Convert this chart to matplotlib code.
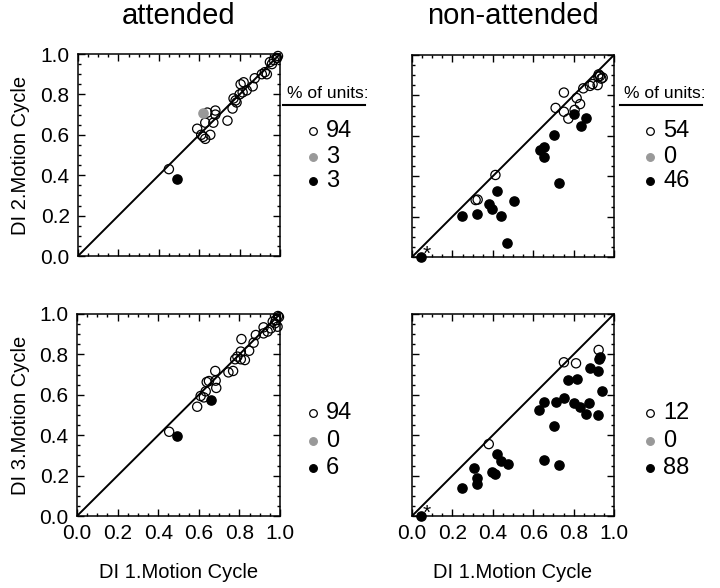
import matplotlib.pyplot as plt
from matplotlib.ticker import MultipleLocator
from matplotlib.lines import Line2D

# ---- data ----
# attended, DI 2 vs DI 1
a2_open_x = [0.45, 0.59, 0.63, 0.64, 0.68, 0.68, 0.67, 0.61, 0.63, 0.655, 0.74, 0.765, 0.78, 0.77,
             0.80, 0.815, 0.805, 0.82, 0.865, 0.875, 0.91, 0.925, 0.935, 0.95, 0.97, 0.985, 0.785,
             0.835, 0.99, 0.96, 0.62]
a2_open_y = [0.43, 0.63, 0.66, 0.71, 0.72, 0.70, 0.66, 0.60, 0.58, 0.60, 0.67, 0.73, 0.77, 0.78,
             0.80, 0.81, 0.85, 0.86, 0.84, 0.88, 0.90, 0.91, 0.90, 0.96, 0.97, 0.98, 0.76,
             0.82, 0.99, 0.95, 0.59]
a2_gray_x = [0.62]
a2_gray_y = [0.71]
a2_fill_x = [0.49]
a2_fill_y = [0.38]

# non-attended, DI 2 vs DI 1
n2_open_x = [0.315, 0.325, 0.413, 0.711, 0.752, 0.752, 0.774, 0.805, 0.815, 0.832, 0.848, 0.881,
             0.894, 0.919, 0.922, 0.931, 0.937, 0.924, 0.944]
n2_open_y = [0.282, 0.284, 0.406, 0.738, 0.814, 0.719, 0.685, 0.728, 0.787, 0.757, 0.835, 0.847,
             0.856, 0.851, 0.893, 0.896, 0.883, 0.904, 0.888]
n2_fill_x = [0.045, 0.246, 0.320, 0.381, 0.398, 0.421, 0.442, 0.472, 0.507, 0.634, 0.655, 0.653,
             0.703, 0.729, 0.804, 0.837, 0.863]
n2_fill_y = [0.0, 0.203, 0.215, 0.262, 0.236, 0.327, 0.203, 0.068, 0.279, 0.530, 0.546, 0.493,
             0.606, 0.365, 0.706, 0.649, 0.688]

# attended, DI 3 vs DI 1
a3_open_x = [0.454, 0.592, 0.609, 0.625, 0.634, 0.639, 0.650, 0.683, 0.686, 0.681, 0.746, 0.769,
             0.779, 0.790, 0.807, 0.807, 0.827, 0.810, 0.848, 0.870, 0.881, 0.919, 0.919, 0.939,
             0.955, 0.975, 0.988, 0.98, 0.964, 0.99, 0.995]
a3_open_y = [0.417, 0.541, 0.594, 0.587, 0.617, 0.663, 0.668, 0.670, 0.634, 0.718, 0.711, 0.718,
             0.776, 0.789, 0.814, 0.776, 0.772, 0.876, 0.818, 0.858, 0.896, 0.904, 0.934, 0.913,
             0.929, 0.954, 0.937, 0.97, 0.962, 0.99, 0.985]
a3_fill_x = [0.493, 0.662]
a3_fill_y = [0.394, 0.574]

# non-attended, DI 3 vs DI 1
n3_open_x = [0.380, 0.752, 0.812, 0.924]
n3_open_y = [0.356, 0.761, 0.756, 0.822]
n3_fill_x = [0.045, 0.246, 0.309, 0.320, 0.323, 0.396, 0.413, 0.421, 0.441, 0.474, 0.653, 0.728,
             0.630, 0.653, 0.711, 0.703, 0.754, 0.774, 0.815, 0.804, 0.832, 0.861, 0.878, 0.881,
             0.919, 0.919, 0.927, 0.931, 0.941]
n3_fill_y = [0.0, 0.137, 0.238, 0.186, 0.157, 0.218, 0.208, 0.307, 0.272, 0.257, 0.277, 0.252,
             0.523, 0.564, 0.564, 0.446, 0.586, 0.673, 0.677, 0.559, 0.538, 0.507, 0.558, 0.731,
             0.719, 0.498, 0.776, 0.789, 0.619]

pct_a2 = [94, 3, 3]
pct_n2 = [54, 0, 46]
pct_a3 = [94, 0, 6]
pct_n3 = [12, 0, 88]

W, H = 720, 588
TICKFONT = ['Liberation Sans Narrow', 'Liberation Sans']
plt.rcParams['font.family'] = ['Liberation Sans', 'DejaVu Sans']

fig = plt.figure(figsize=(7.2, 5.88), dpi=100)


def px_ax(left, top, right, bottom):
    return fig.add_axes([left / W, 1 - bottom / H, (right - left) / W, (bottom - top) / H])


def setup(ax, xlabels, ylabels):
    ax.set_xlim(0, 1)
    ax.set_ylim(0, 1)
    ax.xaxis.set_major_locator(MultipleLocator(0.2))
    ax.yaxis.set_major_locator(MultipleLocator(0.2))
    ax.xaxis.set_minor_locator(MultipleLocator(0.05))
    ax.yaxis.set_minor_locator(MultipleLocator(0.05))
    ax.tick_params(which='both', direction='in', top=True, right=True, width=1)
    ax.tick_params(which='major', length=5, pad=6, labelsize=15)
    ax.tick_params(which='minor', length=2.5)
    ax.tick_params(labelbottom=xlabels, labelleft=ylabels)
    for lab in ax.get_xticklabels() + ax.get_yticklabels():
        lab.set_family(TICKFONT)
    for s in ax.spines.values():
        s.set_linewidth(1.1)
    ax.plot([0, 1], [0, 1], color='black', lw=1.4, zorder=1)


def points(ax, ox, oy, fx, fy, gx=None, gy=None):
    ax.scatter(ox, oy, s=44, facecolors='none', edgecolors='black', linewidths=0.9,
               zorder=3, clip_on=False)
    if gx:
        ax.scatter(gx, gy, s=44, color='#999999', zorder=3, clip_on=False)
    ax.scatter(fx, fy, s=44, color='black', zorder=4, clip_on=False)


def legend(x0, ys, pcts, header_y=None):
    styles = [dict(mfc='white', mec='black'), dict(mfc='#999999', mec='#999999'),
              dict(mfc='black', mec='black')]
    if header_y is not None:
        fig.text((x0 + 15) / W, 1 - header_y / H, '% of units:', fontsize=12.5,
                 ha='center', va='center')
        fig.add_artist(Line2D([(x0 - 30) / W, (x0 + 52) / W],
                              [1 - (header_y + 12) / H] * 2, color='black', lw=1.5))
    for y, p, st in zip(ys, pcts, styles):
        fig.add_artist(Line2D([x0 / W], [1 - y / H], marker='o', ms=5.5, mew=0.9, ls='none', **st))
        fig.text((x0 + 13) / W, 1 - y / H, str(p), fontsize=17, ha='left', va='center')


ax1 = px_ax(78, 54, 280, 256)
setup(ax1, False, True)
points(ax1, a2_open_x, a2_open_y, a2_fill_x, a2_fill_y, a2_gray_x, a2_gray_y)

ax2 = px_ax(412, 55, 614, 257)
setup(ax2, False, False)
points(ax2, n2_open_x, n2_open_y, n2_fill_x, n2_fill_y)
ax2.text(0.075, 0.015, '*', fontsize=15, ha='center', va='center')

ax3 = px_ax(77, 314, 280, 516)
setup(ax3, True, True)
points(ax3, a3_open_x, a3_open_y, a3_fill_x, a3_fill_y)

ax4 = px_ax(412, 314, 614, 516)
setup(ax4, True, False)
points(ax4, n3_open_x, n3_open_y, n3_fill_x, n3_fill_y)
ax4.text(0.075, 0.015, '*', fontsize=15, ha='center', va='center')

legend(313, [131, 157, 181], pct_a2, header_y=93)
legend(650, [131, 157, 181], pct_n2, header_y=93)
legend(313, [413, 441, 468], pct_a3)
legend(650, [413, 441, 468], pct_n3)

fig.text(179 / W, 1 - 16 / H, 'attended', fontsize=21, ha='center', va='center')
fig.text(513 / W, 1 - 16 / H, 'non-attended', fontsize=21, ha='center', va='center')
fig.text(179 / W, 1 - 573 / H, 'DI 1.Motion Cycle', fontsize=14.5, ha='center', va='center')
fig.text(513 / W, 1 - 573 / H, 'DI 1.Motion Cycle', fontsize=14.5, ha='center', va='center')
fig.text(21 / W, 1 - 155 / H, 'DI 2.Motion Cycle', fontsize=14.5, rotation=90,
         ha='center', va='center')
fig.text(21 / W, 1 - 415 / H, 'DI 3.Motion Cycle', fontsize=14.5, rotation=90,
         ha='center', va='center')

fig.savefig('out.png', dpi=100)
